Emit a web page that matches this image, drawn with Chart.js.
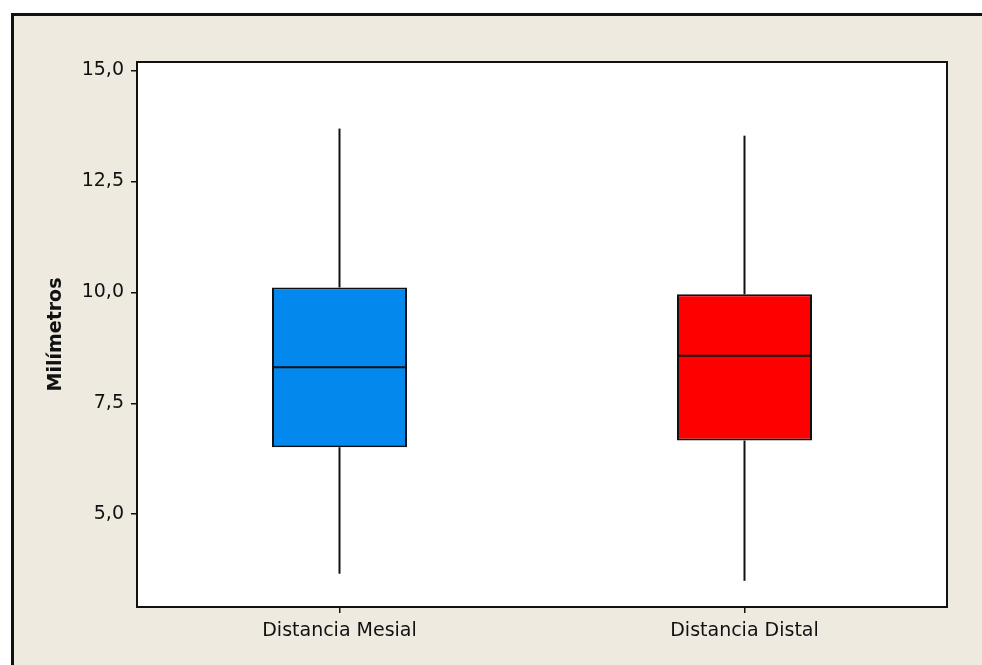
<!DOCTYPE html>
<html>
<head>
<meta charset="utf-8">
<script src="https://cdn.jsdelivr.net/npm/chart.js@4/dist/chart.umd.min.js"></script>
<style>
  html, body { margin: 0; padding: 0; background: #ffffff; }
  #frame {
    position: absolute; left: 11px; top: 13px;
    width: 971px; height: 652px;
    border-left: 3px solid #111; border-top: 3px solid #111;
    background: #EEEAE0;
  }
  #wrap { position: absolute; left: 0; top: 0; width: 968px; height: 649px; }
</style>
</head>
<body>
<div id="frame"><div id="wrap"><canvas id="chart"></canvas></div></div>
<script>
// Five-number summaries per group (mm)
const categories = ['Distancia Mesial', 'Distancia Distal'];
const minimum = [3.66, 3.50];
const q1 = [6.51, 6.66];
const median = [8.31, 8.57];
const q3 = [10.11, 9.955];
const maximum = [13.69, 13.53];
const boxColors = ['#0389ED', '#FF0000'];

// Value axis
const yMin = 2.91;
const yMax = 15.19;
const yTicks = [5, 7.5, 10, 12.5, 15];
const yTickLabels = ['5,0', '7,5', '10,0', '12,5', '15,0'];
const yTitle = 'Milímetros';

const FONT = 'DejaVu Sans';
const INK = '#111111';
const BOX_DATASET = 2;

const pairs = (a, b) => a.map((v, i) => [v, b[i]]);

// White plot panel with a black frame
const panel = {
  id: 'panel',
  beforeDraw(chart) {
    const { ctx, chartArea: a } = chart;
    ctx.save();
    ctx.fillStyle = '#ffffff';
    ctx.fillRect(a.left, a.top, a.right - a.left, a.bottom - a.top);
    ctx.restore();
  },
  afterDraw(chart) {
    const { ctx, chartArea: a } = chart;
    ctx.save();
    ctx.strokeStyle = INK;
    ctx.lineWidth = 2;
    ctx.strokeRect(a.left, a.top, a.right - a.left, a.bottom - a.top);
    ctx.restore();
  }
};

// Median line across each box, placed with the y scale
const medianLines = {
  id: 'medianLines',
  afterDatasetsDraw(chart) {
    const { ctx } = chart;
    const y = chart.scales.y;
    const boxes = chart.getDatasetMeta(BOX_DATASET).data;
    ctx.save();
    ctx.strokeStyle = INK;
    ctx.lineWidth = 2;
    boxes.forEach((bar, i) => {
      const py = y.getPixelForValue(median[i]);
      const half = bar.width / 2;
      ctx.beginPath();
      ctx.moveTo(bar.x - half, py);
      ctx.lineTo(bar.x + half, py);
      ctx.stroke();
    });
    ctx.restore();
  }
};

const whisker = (data) => ({
  data,
  backgroundColor: INK,
  borderWidth: 0,
  barThickness: 2,
  grouped: false,
  inflateAmount: 0
});

new Chart(document.getElementById('chart'), {
  type: 'bar',
  data: {
    labels: categories,
    datasets: [
      whisker(pairs(minimum, q1)),
      whisker(pairs(q3, maximum)),
      {
        data: pairs(q1, q3),
        backgroundColor: boxColors,
        borderColor: INK,
        borderWidth: 2,
        borderSkipped: false,
        barPercentage: 1 / 3,
        categoryPercentage: 1,
        grouped: false,
        inflateAmount: 0
      }
    ]
  },
  options: {
    responsive: true,
    maintainAspectRatio: false,
    animation: false,
    events: [],
    layout: { padding: { top: 46, right: 35, left: 0, bottom: 0 } },
    plugins: { legend: { display: false }, tooltip: { enabled: false } },
    scales: {
      x: {
        type: 'category',
        offset: true,
        grid: { offset: false, drawOnChartArea: false, drawTicks: true, tickLength: 6, color: INK, lineWidth: 1.5 },
        border: { display: false },
        ticks: { color: INK, font: { family: FONT, size: 19 }, padding: 7, maxRotation: 0 },
        afterFit(scale) { scale.height = 58; }
      },
      y: {
        type: 'linear',
        min: yMin,
        max: yMax,
        grid: { drawOnChartArea: false, drawTicks: true, tickLength: 6, color: INK, lineWidth: 1.5 },
        border: { display: false },
        afterBuildTicks(scale) { scale.ticks = yTicks.map(v => ({ value: v })); },
        ticks: {
          color: INK,
          font: { family: FONT, size: 19 },
          padding: 7,
          callback: (v, i) => yTickLabels[i]
        },
        title: {
          display: true,
          text: yTitle,
          color: INK,
          font: { family: FONT, size: 19, weight: 'bold' },
          padding: { top: 31, bottom: 0 }
        },
        afterFit(scale) { scale.width = 123; }
      }
    }
  },
  plugins: [panel, medianLines]
});
</script>
</body>
</html>
